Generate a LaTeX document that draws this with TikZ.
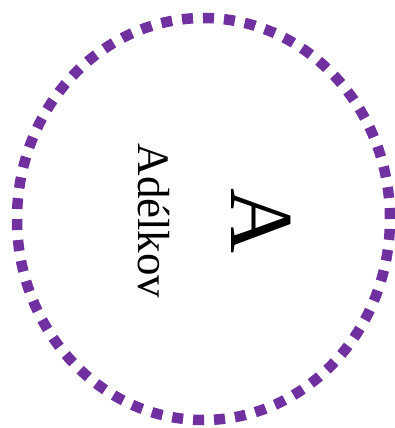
\documentclass[tikz,border=0pt]{standalone}
\usepackage{fontspec}
\setmainfont{Liberation Serif}
\usepackage{tikz}
\usetikzlibrary{shapes.geometric}
\definecolor{ringpurple}{RGB}{112,48,160}

\begin{document}
\begin{tikzpicture}[x=1pt,y=-1pt,
 ring/.style={ellipse,draw=ringpurple,line width=10.5pt,dash pattern=on 11pt off 10pt,minimum width=373pt,minimum height=402pt,inner sep=0pt},
 label/.style={rotate=-90,inner sep=0pt}
]
\useasboundingbox (0,0) rectangle (395,428);
\node[ring] (ring) at (203.5,219) {};
\node[label,font=\fontsize{90}{90}\selectfont] (letter) at (261,221) {A};
\node[label,font=\fontsize{45}{45}\selectfont] (name) at (154,221) {Adélkov};
\end{tikzpicture}
\end{document}
